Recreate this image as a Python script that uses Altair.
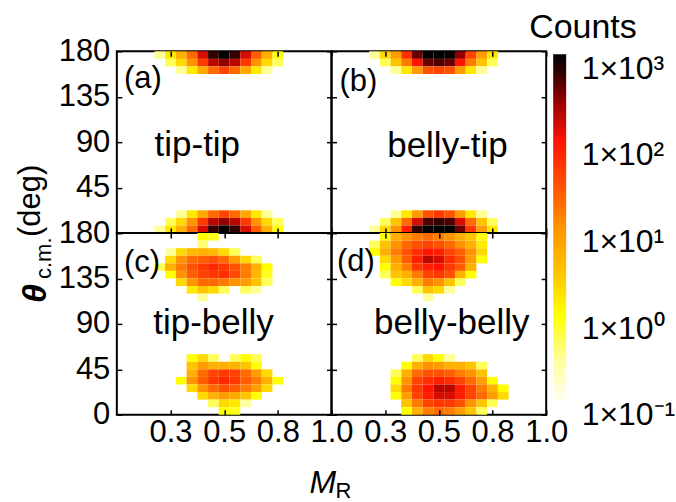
import altair as alt
import pandas as pd

# ---------------- data ----------------
X_CENTERS = [0.20, 0.25, 0.30, 0.35, 0.40, 0.45, 0.50, 0.55, 0.60, 0.65, 0.70, 0.75, 0.80]
CELL_W = 0.05
CELL_H = 7.5

# (a) tip-tip
tt_theta = [172.5, 165, 157.5, 15, 7.5, 0]
tt_counts = [
    [0.3, 1.5, 5, 20, 150, 600, 1000, 600, 150, 25, 5, 1, 0],
    [0, 0.5, 2, 10, 50, 200, 300, 200, 50, 10, 2, 0.5, 0],
    [0, 0, 0.3, 1.5, 6, 20, 40, 20, 6, 1.5, 0.3, 0, 0],
    [0, 0, 0.3, 1.5, 6, 20, 40, 20, 6, 1.5, 0.3, 0, 0],
    [0, 0.5, 2, 10, 50, 200, 300, 200, 50, 10, 2, 0.5, 0],
    [0.3, 1.5, 5, 20, 150, 600, 1000, 600, 150, 25, 5, 1, 0],
]

# (b) belly-tip
bt_theta = [172.5, 165, 157.5, 15, 7.5, 0]
bt_counts = [
    [0.3, 2, 8, 60, 400, 1000, 1000, 900, 300, 40, 8, 1.5, 0],
    [0, 0.5, 3, 15, 100, 400, 500, 400, 100, 15, 3, 0.5, 0],
    [0, 0, 0.3, 1.5, 8, 30, 40, 30, 8, 1.5, 0.3, 0, 0],
    [0, 0, 0.3, 1.5, 8, 30, 50, 30, 8, 1.5, 0.3, 0, 0],
    [0, 0.5, 3, 20, 150, 500, 600, 500, 150, 20, 3, 0.5, 0],
    [0.3, 2, 10, 80, 600, 1000, 1000, 1000, 400, 50, 8, 1.5, 0],
]

# (c) tip-belly
tb_theta = [172.5, 165, 157.5, 150, 142.5, 135, 127.5, 120, 112.5,
            52.5, 45, 37.5, 30, 22.5, 15, 7.5, 0]
tb_counts = [
    [0, 0, 0, 0, 1, 0.8, 0, 0, 0, 0, 0, 0, 0],
    [0, 0, 0, 0, 0.4, 0, 0, 0, 0, 0, 0, 0, 0],
    [0, 0.3, 2, 4, 5, 4, 2, 0.5, 0, 0, 0, 0, 0],
    [0, 2, 10, 20, 25, 30, 20, 8, 2, 0.5, 0, 0, 0],
    [0.5, 5, 15, 30, 50, 70, 50, 30, 15, 5, 1, 0, 0],
    [0, 1, 10, 25, 40, 50, 60, 35, 15, 4, 0.8, 0, 0],
    [0, 0, 2, 10, 20, 20, 15, 10, 8, 3, 0.5, 0, 0],
    [0, 0, 0, 1.5, 3, 2, 0.5, 0, 0.5, 0.3, 0, 0, 0],
    [0, 0, 0, 0, 0.3, 0, 0, 0, 0, 0, 0, 0, 0],
    [0, 0, 0, 1, 2, 0.5, 0, 0.5, 1, 0.5, 0, 0, 0],
    [0, 0, 0, 3, 8, 5, 5, 5, 3, 1, 0, 0, 0],
    [0, 0, 0, 5, 20, 40, 50, 40, 20, 8, 2, 0, 0],
    [0, 0, 1, 10, 25, 50, 70, 50, 25, 15, 5, 1, 0],
    [0, 0, 0, 2, 10, 20, 30, 25, 15, 8, 2, 0, 0],
    [0, 0, 0, 0, 2, 5, 8, 6, 3, 1, 0, 0, 0],
    [0, 0, 0, 0, 0, 0.5, 2, 1.5, 0.3, 0, 0, 0, 0],
    [0, 0, 0, 0, 0, 0, 1, 0.8, 0, 0, 0, 0, 0],
]

# (d) belly-belly
bb_theta = [172.5, 165, 157.5, 150, 142.5, 135, 127.5, 120, 112.5,
            52.5, 45, 37.5, 30, 22.5, 15, 7.5, 0]
bb_counts = [
    [0, 1, 5, 10, 15, 20, 15, 10, 5, 3, 1, 0, 0],
    [0.5, 3, 10, 20, 30, 40, 30, 20, 10, 5, 1.5, 0, 0],
    [1, 5, 15, 30, 60, 100, 80, 40, 25, 10, 2, 0, 0],
    [0, 2, 8, 25, 80, 200, 150, 60, 30, 8, 1, 0, 0],
    [0, 1, 5, 15, 50, 80, 100, 50, 25, 5, 0, 0, 0],
    [0, 0.5, 3, 5, 15, 40, 50, 30, 5, 1, 0, 0, 0],
    [0, 0, 1, 2, 5, 15, 10, 3, 0.5, 0, 0, 0, 0],
    [0, 0, 0, 0, 0.5, 3, 2, 0.3, 0, 0, 0, 0, 0],
    [0, 0, 0, 0, 0, 0.3, 0, 0, 0, 0, 0, 0, 0],
    [0, 0, 0, 0, 0.5, 2, 1, 0.3, 0, 0, 0, 0, 0],
    [0, 0, 0, 1, 5, 10, 8, 5, 5, 3, 0.5, 0, 0],
    [0, 0, 0.5, 5, 20, 30, 30, 25, 15, 10, 3, 0, 0],
    [0, 0, 1, 10, 40, 60, 80, 60, 40, 20, 8, 1, 0],
    [0, 0, 2, 15, 50, 100, 200, 200, 80, 40, 15, 5, 1],
    [0, 0, 1, 8, 40, 80, 150, 150, 80, 40, 20, 8, 2],
    [0, 0, 0, 3, 15, 40, 50, 50, 30, 10, 3, 0.5, 0],
    [0, 0, 0, 1, 5, 15, 20, 15, 8, 3, 0.5, 0, 0],
]

PANEL_LETTERS = ["(a)", "(b)", "(c)", "(d)"]
PANEL_NAMES = ["tip-tip", "belly-tip", "tip-belly", "belly-belly"]
LETTER_X = [0.033, 0.037, 0.033, 0.025]
LETTER_Y = [153, 150, 150, 151]
NAME_X = [0.375, 0.54, 0.45, 0.56]
NAME_Y = [87, 86, 91, 91]

X_TICKS = [0.25, 0.5, 0.75, 1.0]
Y_TICKS = [0, 45, 90, 135, 180]
LEGEND_VALUES = [0.1, 1, 10, 100, 1000]
COLOR_DOMAIN = [0.1, 0.3, 1, 3, 10, 30, 100, 300, 600, 1000]
COLOR_RANGE = ["#fffff4", "#ffff9a", "#ffff00", "#ffc400", "#ff9400",
               "#ff5200", "#ff1400", "#900000", "#340000", "#000000"]

FONT = "Liberation Sans"
W, H = 215, 182


def cells(thetas, counts):
    recs = []
    for th, row in zip(thetas, counts):
        for xc, c in zip(X_CENTERS, row):
            if c > 0:
                recs.append({"x0": xc - CELL_W / 2, "x1": xc + CELL_W / 2,
                             "t0": th, "t1": th + CELL_H, "count": c})
    return pd.DataFrame(recs)


xs = alt.Scale(domain=[0, 1], nice=False, zero=False)
ys = alt.Scale(domain=[0, 180], nice=False, zero=False)
cs = alt.Scale(type="log", domain=COLOR_DOMAIN, range=COLOR_RANGE, clamp=True,
               interpolate="rgb")

# gradient colour bar (labels are drawn by an axis sharing the same log range)
legend = alt.Legend(
    type="gradient", orient="none", legendX=437, legendY=3, direction="vertical",
    gradientLength=347, gradientThickness=13, gradientStrokeWidth=0,
    values=LEGEND_VALUES, title=None, labelOpacity=0, labelExpr="''",
)

LABEL_EXPR = ("datum.value >= 999 ? '1×10³' : datum.value >= 99 ? '1×10²' : "
              "datum.value >= 9 ? '1×10¹' : datum.value >= 0.9 ? '1×10⁰' : '1×10⁻¹'")


def axis(orient, show, values, hide_zero=False):
    kw = dict(orient=orient, values=values, title=None, domain=False, grid=False,
              ticks=True, tickSize=5, tickWidth=1.5, tickColor="black", offset=-5,
              labels=show, labelFontSize=31, labelFont=FONT, labelColor="black",
              labelFlush=False, labelOverlap=False, zindex=1)
    if orient in ("bottom", "top"):
        kw["labelPadding"] = 3
        kw["labelExpr"] = "format(datum.value, '.1f')"
    else:
        kw["labelPadding"] = 7
        if hide_zero:
            kw["labelExpr"] = "datum.value == 0 ? '' : datum.label"
    return alt.Axis(**kw)


def panel(i, thetas, counts, show_x, show_y, extras=(), indep_y=False):
    df = cells(thetas, counts)
    heat = alt.Chart(df).mark_rect().encode(
        x=alt.X("x0:Q", scale=xs, axis=axis("bottom", show_x, X_TICKS)),
        x2="x1:Q",
        y=alt.Y("t0:Q", scale=ys, axis=axis("left", show_y, Y_TICKS, hide_zero=not show_x)),
        y2="t1:Q",
        color=alt.Color("count:Q", scale=cs, legend=legend),
    )
    lab = pd.DataFrame({"x": [LETTER_X[i]], "y": [LETTER_Y[i]], "t": [PANEL_LETTERS[i]]})
    letter = alt.Chart(lab).mark_text(align="left", baseline="middle", fontSize=31,
                                      font=FONT, color="black").encode(
        x=alt.X("x:Q", scale=xs, axis=axis("top", False, X_TICKS)),
        y=alt.Y("y:Q", scale=ys, axis=axis("right", False, Y_TICKS)),
        text="t:N",
    )
    nm = pd.DataFrame({"x": [NAME_X[i]], "y": [NAME_Y[i]], "t": [PANEL_NAMES[i]]})
    name = alt.Chart(nm).mark_text(align="center", baseline="middle", fontSize=35,
                                   font=FONT, color="black").encode(
        x=alt.X("x:Q", scale=xs, axis=None),
        y=alt.Y("y:Q", scale=ys, axis=None),
        text="t:N",
    )
    layers = [heat, letter, name] + list(extras)
    ch = alt.layer(*layers).resolve_axis(x="independent", y="independent")
    if indep_y:
        ch = ch.resolve_scale(y="independent")
    return ch.properties(width=W, height=H)


def note(text, x, y, size, angle=0, style="normal", weight="normal"):
    return alt.Chart(pd.DataFrame({"t": [text]})).mark_text(
        align="left", baseline="alphabetic", fontSize=size, angle=angle,
        fontStyle=style, fontWeight=weight, font=FONT, color="black").encode(
        text="t:N", x=alt.value(x), y=alt.value(y))


cbar_labels = alt.Chart(pd.DataFrame({"v": LEGEND_VALUES})).mark_point(opacity=0).encode(
    x=alt.value(0),
    y=alt.Y("v:Q", scale=alt.Scale(type="log", domain=[0.1, 1000], range=[350, 3]),
            axis=alt.Axis(orient="right", offset=20, values=LEGEND_VALUES, labelExpr=LABEL_EXPR,
                          ticks=False, domain=False, grid=False, title=None,
                          labelPadding=15, labelOffset=14, labelBaseline="middle",
                          labelAlign="left", labelFontSize=32, labelFont=FONT,
                          labelColor="black", labelFlush=False, labelOverlap=False)),
)

c_extras = [
    note("θ", -71, 70, 34, angle=270, style="italic", weight="bold"),
    note("c.m.", -66, 46, 22, angle=270),
    note("(deg)", -77, 4, 31, angle=270),
    note("M", 193, 260, 32, style="italic"),
    note("R", 219, 265, 22),
]
b_extras = [note("Counts", 198, -13, 34), cbar_labels]

pa = panel(0, tt_theta, tt_counts, False, True)
pb = panel(1, bt_theta, bt_counts, False, False, b_extras, indep_y=True)
pc = panel(2, tb_theta, tb_counts, True, True, c_extras)
pd_ = panel(3, bb_theta, bb_counts, True, False)

chart = alt.concat(pa, pb, pc, pd_, columns=2, spacing=0, bounds="flush").properties(
    padding={"left": 13, "top": 10, "right": 0, "bottom": 0}
).configure(font=FONT, background="white").configure_view(stroke="black", strokeWidth=2)

chart.save("out.html", embed_options={"renderer": "svg", "actions": False})
